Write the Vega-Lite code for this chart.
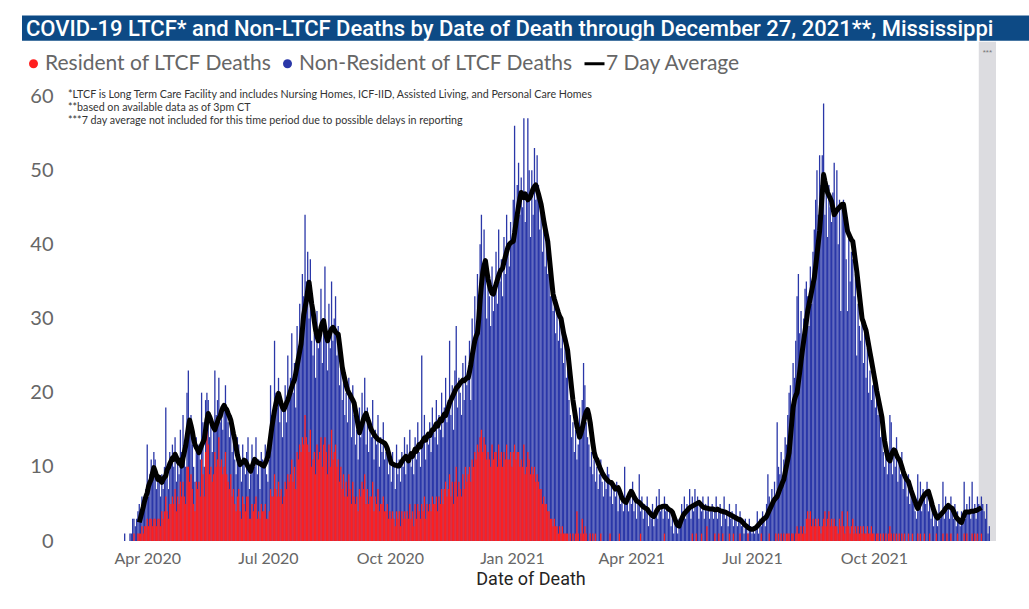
{
"$schema": "https://vega.github.io/schema/vega-lite/v6.json",
"width": 941, "height": 445,
"autosize": "none",
"padding": {"left": 60, "top": 96, "right": 28, "bottom": 68},
"background": "white",
"config": {"view": {"stroke": null}},
"data": {"values": [
{"d":"2020-03-15","t":1,"r":0},{"d":"2020-03-19","t":1,"r":0},{"d":"2020-03-20","t":1,"r":0},{"d":"2020-03-21","t":3,"r":0},{"d":"2020-03-22","t":3,"r":1},{"d":"2020-03-23","t":2,"r":0},{"d":"2020-03-24","t":3,"r":0},{"d":"2020-03-25","t":4,"r":1},{"d":"2020-03-26","t":5,"r":1,"a":2.5},{"d":"2020-03-27","t":3,"r":1,"a":3.2},{"d":"2020-03-28","t":6,"r":2,"a":3.9},
{"d":"2020-03-29","t":5,"r":1,"a":4.6},{"d":"2020-03-30","t":6,"r":2,"a":5.4},{"d":"2020-03-31","t":7,"r":2,"a":6.0},
{"d":"2020-04-01","t":13,"r":3,"a":6.5},{"d":"2020-04-02","t":6,"r":2,"a":7.4},{"d":"2020-04-03","t":9,"r":3,"a":7.9},{"d":"2020-04-04","t":11,"r":3,"a":8.3},{"d":"2020-04-05","t":8,"r":2,"a":9.2},{"d":"2020-04-06","t":12,"r":3,"a":9.9},{"d":"2020-04-07","t":11,"r":3,"a":9.4},{"d":"2020-04-08","t":7,"r":2,"a":8.8},{"d":"2020-04-09","t":9,"r":3,"a":8.3},{"d":"2020-04-10","t":8,"r":3,"a":8.6},{"d":"2020-04-11","t":6,"r":2,"a":8.1},{"d":"2020-04-12","t":9,"r":4,"a":7.9},{"d":"2020-04-13","t":7,"r":3,"a":8.3},{"d":"2020-04-14","t":10,"r":4,"a":8.6},{"d":"2020-04-15","t":18,"r":6,"a":8.8},{"d":"2020-04-16","t":9,"r":4,"a":9.6},{"d":"2020-04-17","t":7,"r":3,"a":9.9},{"d":"2020-04-18","t":12,"r":5,"a":10.4},{"d":"2020-04-19","t":11,"r":5,"a":10.8},{"d":"2020-04-20","t":13,"r":6,"a":11.2},{"d":"2020-04-21","t":10,"r":5,"a":11.0},{"d":"2020-04-22","t":14,"r":7,"a":11.7},{"d":"2020-04-23","t":8,"r":4,"a":11.3},{"d":"2020-04-24","t":11,"r":6,"a":10.8},{"d":"2020-04-25","t":9,"r":5,"a":10.5},{"d":"2020-04-26","t":15,"r":8,"a":10.9},{"d":"2020-04-27","t":12,"r":6,"a":10.1},
{"d":"2020-04-28","t":17,"r":8,"a":11.2},{"d":"2020-04-29","t":13,"r":6,"a":12.0},{"d":"2020-04-30","t":10,"r":5,"a":12.8},{"d":"2020-05-01","t":20,"r":10,"a":14.0},{"d":"2020-05-02","t":23,"r":10,"a":15.3},{"d":"2020-05-03","t":15,"r":8,"a":16.3},{"d":"2020-05-04","t":17,"r":9,"a":15.6},{"d":"2020-05-05","t":13,"r":7,"a":14.8},{"d":"2020-05-06","t":10,"r":5,"a":13.7},{"d":"2020-05-07","t":8,"r":4,"a":13.0},{"d":"2020-05-08","t":14,"r":8,"a":12.6},{"d":"2020-05-09","t":12,"r":7,"a":12.3},{"d":"2020-05-10","t":13,"r":8,"a":11.9},{"d":"2020-05-11","t":11,"r":6,"a":12.4},{"d":"2020-05-12","t":20,"r":11,"a":12.9},{"d":"2020-05-13","t":16,"r":9,"a":13.3},{"d":"2020-05-14","t":10,"r":6,"a":13.7},{"d":"2020-05-15","t":19,"r":12,"a":15.0},{"d":"2020-05-16","t":20,"r":15,"a":16.3},{"d":"2020-05-17","t":19,"r":13,"a":17.2},{"d":"2020-05-18","t":14,"r":9,"a":16.8},{"d":"2020-05-19","t":16,"r":10,"a":16.3},{"d":"2020-05-20","t":12,"r":8,"a":15.7},{"d":"2020-05-21","t":15,"r":9,"a":15.3},{"d":"2020-05-22","t":23,"r":12,"a":15.0},{"d":"2020-05-23","t":17,"r":10,"a":15.6},{"d":"2020-05-24","t":19,"r":11,"a":16.1},{"d":"2020-05-25","t":22,"r":14,"a":16.6},{"d":"2020-05-26","t":16,"r":10,"a":16.8},{"d":"2020-05-27","t":18,"r":11,"a":17.5},{"d":"2020-05-28","t":15,"r":9,"a":18.0},
{"d":"2020-05-29","t":18,"r":10,"a":18.3},{"d":"2020-05-30","t":21,"r":12,"a":17.9},{"d":"2020-05-31","t":18,"r":9,"a":17.7},{"d":"2020-06-01","t":16,"r":8,"a":17.2},{"d":"2020-06-02","t":14,"r":7,"a":16.8},{"d":"2020-06-03","t":17,"r":9,"a":16.3},{"d":"2020-06-04","t":12,"r":6,"a":15.4},{"d":"2020-06-05","t":14,"r":7,"a":14.5},{"d":"2020-06-06","t":11,"r":5,"a":13.7},{"d":"2020-06-07","t":9,"r":4,"a":12.6},{"d":"2020-06-08","t":14,"r":6,"a":11.6},{"d":"2020-06-09","t":13,"r":7,"a":10.9},{"d":"2020-06-10","t":10,"r":4,"a":10.3},{"d":"2020-06-11","t":8,"r":3,"a":10.5},{"d":"2020-06-12","t":13,"r":6,"a":10.6},{"d":"2020-06-13","t":11,"r":5,"a":10.9},{"d":"2020-06-14","t":9,"r":4,"a":10.8},{"d":"2020-06-15","t":12,"r":6,"a":10.4},{"d":"2020-06-16","t":14,"r":6,"a":10.0},{"d":"2020-06-17","t":7,"r":3,"a":9.7},{"d":"2020-06-18","t":9,"r":3,"a":9.4},{"d":"2020-06-19","t":13,"r":5,"a":10.0},{"d":"2020-06-20","t":11,"r":4,"a":10.5},{"d":"2020-06-21","t":10,"r":5,"a":11.0},{"d":"2020-06-22","t":14,"r":6,"a":10.8},{"d":"2020-06-23","t":9,"r":3,"a":10.6},{"d":"2020-06-24","t":11,"r":4,"a":10.5},{"d":"2020-06-25","t":7,"r":3,"a":10.5},{"d":"2020-06-26","t":12,"r":5,"a":10.3},{"d":"2020-06-27","t":11,"r":4,"a":10.2},
{"d":"2020-06-28","t":10,"r":4,"a":10.1},{"d":"2020-06-29","t":13,"r":5,"a":10.5},{"d":"2020-06-30","t":9,"r":3,"a":10.9},{"d":"2020-07-01","t":8,"r":3,"a":11.4},{"d":"2020-07-02","t":11,"r":4,"a":12.6},{"d":"2020-07-03","t":21,"r":7,"a":14.0},{"d":"2020-07-04","t":17,"r":6,"a":15.4},{"d":"2020-07-05","t":15,"r":6,"a":16.5},{"d":"2020-07-06","t":27,"r":9,"a":17.6},{"d":"2020-07-07","t":20,"r":7,"a":18.5},{"d":"2020-07-08","t":18,"r":6,"a":19.3},{"d":"2020-07-09","t":22,"r":8,"a":19.9},{"d":"2020-07-10","t":16,"r":6,"a":19.2},{"d":"2020-07-11","t":19,"r":7,"a":18.5},{"d":"2020-07-12","t":14,"r":5,"a":18.0},{"d":"2020-07-13","t":18,"r":6,"a":17.7},{"d":"2020-07-14","t":21,"r":8,"a":18.1},{"d":"2020-07-15","t":16,"r":7,"a":18.6},{"d":"2020-07-16","t":25,"r":9,"a":19.0},{"d":"2020-07-17","t":19,"r":8,"a":19.6},{"d":"2020-07-18","t":22,"r":9,"a":20.2},{"d":"2020-07-19","t":28,"r":11,"a":20.8},{"d":"2020-07-20","t":20,"r":8,"a":21.3},{"d":"2020-07-21","t":24,"r":10,"a":21.7},{"d":"2020-07-22","t":18,"r":7,"a":22.6},{"d":"2020-07-23","t":29,"r":12,"a":23.6},{"d":"2020-07-24","t":26,"r":11,"a":24.6},{"d":"2020-07-25","t":32,"r":13,"a":25.6},{"d":"2020-07-26","t":28,"r":12,"a":26.6},{"d":"2020-07-27","t":36,"r":14,"a":28.5},{"d":"2020-07-28","t":33,"r":13,"a":30.5},
{"d":"2020-07-29","t":44,"r":17,"a":31.5},{"d":"2020-07-30","t":35,"r":14,"a":32.4},{"d":"2020-07-31","t":39,"r":13,"a":33.8},{"d":"2020-08-01","t":30,"r":12,"a":34.9},{"d":"2020-08-02","t":38,"r":15,"a":33.5},{"d":"2020-08-03","t":27,"r":10,"a":32.0},{"d":"2020-08-04","t":25,"r":11,"a":31.0},{"d":"2020-08-05","t":28,"r":12,"a":29.6},{"d":"2020-08-06","t":22,"r":9,"a":28.4},{"d":"2020-08-07","t":31,"r":13,"a":27.6},{"d":"2020-08-08","t":26,"r":11,"a":27.0},{"d":"2020-08-09","t":29,"r":12,"a":27.8},{"d":"2020-08-10","t":34,"r":14,"a":28.8},{"d":"2020-08-11","t":24,"r":10,"a":29.4},{"d":"2020-08-12","t":30,"r":13,"a":29.7},{"d":"2020-08-13","t":37,"r":14,"a":28.6},{"d":"2020-08-14","t":28,"r":12,"a":27.6},{"d":"2020-08-15","t":23,"r":9,"a":27.0},{"d":"2020-08-16","t":32,"r":13,"a":27.6},{"d":"2020-08-17","t":26,"r":10,"a":28.2},{"d":"2020-08-18","t":35,"r":15,"a":28.6},{"d":"2020-08-19","t":27,"r":11,"a":28.8},{"d":"2020-08-20","t":30,"r":12,"a":28.5},{"d":"2020-08-21","t":33,"r":13,"a":28.2},{"d":"2020-08-22","t":25,"r":10,"a":28.0},{"d":"2020-08-23","t":29,"r":11,"a":27.9},{"d":"2020-08-24","t":21,"r":8,"a":26.5},{"d":"2020-08-25","t":26,"r":10,"a":25.0},{"d":"2020-08-26","t":19,"r":7,"a":23.5},{"d":"2020-08-27","t":23,"r":9,"a":22.6},{"d":"2020-08-28","t":17,"r":6,"a":21.8},
{"d":"2020-08-29","t":20,"r":8,"a":21.0},{"d":"2020-08-30","t":16,"r":6,"a":20.4},{"d":"2020-08-31","t":22,"r":9,"a":20.0},{"d":"2020-09-01","t":19,"r":7,"a":19.7},{"d":"2020-09-02","t":14,"r":5,"a":19.3},{"d":"2020-09-03","t":21,"r":8,"a":19.0},{"d":"2020-09-04","t":17,"r":6,"a":18.6},{"d":"2020-09-05","t":13,"r":5,"a":17.6},{"d":"2020-09-06","t":15,"r":6,"a":16.6},{"d":"2020-09-07","t":11,"r":4,"a":15.6},{"d":"2020-09-08","t":18,"r":7,"a":14.6},{"d":"2020-09-09","t":14,"r":6,"a":15.2},{"d":"2020-09-10","t":20,"r":8,"a":15.8},{"d":"2020-09-11","t":16,"r":7,"a":16.4},{"d":"2020-09-12","t":22,"r":9,"a":16.9},{"d":"2020-09-13","t":13,"r":5,"a":17.2},{"d":"2020-09-14","t":18,"r":7,"a":16.6},{"d":"2020-09-15","t":12,"r":5,"a":16.1},{"d":"2020-09-16","t":16,"r":6,"a":15.5},{"d":"2020-09-17","t":14,"r":6,"a":15.0},{"d":"2020-09-18","t":19,"r":8,"a":14.7},{"d":"2020-09-19","t":11,"r":4,"a":14.4},{"d":"2020-09-20","t":15,"r":6,"a":14.1},{"d":"2020-09-21","t":13,"r":5,"a":13.9},{"d":"2020-09-22","t":17,"r":7,"a":13.7},{"d":"2020-09-23","t":10,"r":4,"a":13.6},{"d":"2020-09-24","t":14,"r":5,"a":13.5},{"d":"2020-09-25","t":12,"r":5,"a":13.4},{"d":"2020-09-26","t":16,"r":6,"a":13.3},{"d":"2020-09-27","t":11,"r":4,"a":13.2},{"d":"2020-09-28","t":12,"r":4,"a":12.9},
{"d":"2020-09-29","t":13,"r":5,"a":12.5},{"d":"2020-09-30","t":9,"r":3,"a":11.8},{"d":"2020-10-01","t":11,"r":4,"a":11.1},{"d":"2020-10-02","t":8,"r":3,"a":10.5},{"d":"2020-10-03","t":12,"r":4,"a":10.4},{"d":"2020-10-04","t":10,"r":3,"a":10.3},{"d":"2020-10-05","t":7,"r":2,"a":10.2},{"d":"2020-10-06","t":13,"r":4,"a":10.2},{"d":"2020-10-07","t":9,"r":3,"a":10.1},{"d":"2020-10-08","t":11,"r":4,"a":10.1},{"d":"2020-10-09","t":8,"r":2,"a":10.4},{"d":"2020-10-10","t":12,"r":4,"a":10.7},{"d":"2020-10-11","t":10,"r":3,"a":11.0},{"d":"2020-10-12","t":14,"r":4,"a":11.2},{"d":"2020-10-13","t":9,"r":3,"a":11.4},{"d":"2020-10-14","t":13,"r":4,"a":11.1},{"d":"2020-10-15","t":11,"r":3,"a":10.8},{"d":"2020-10-16","t":15,"r":5,"a":11.3},{"d":"2020-10-17","t":10,"r":3,"a":11.8},{"d":"2020-10-18","t":12,"r":4,"a":11.4},{"d":"2020-10-19","t":9,"r":2,"a":11.9},{"d":"2020-10-20","t":14,"r":5,"a":12.4},{"d":"2020-10-21","t":11,"r":3,"a":12.1},{"d":"2020-10-22","t":16,"r":5,"a":12.6},{"d":"2020-10-23","t":12,"r":4,"a":13.0},{"d":"2020-10-24","t":10,"r":3,"a":12.7},{"d":"2020-10-25","t":25,"r":5,"a":13.3},{"d":"2020-10-26","t":13,"r":4,"a":13.5},{"d":"2020-10-27","t":17,"r":6,"a":13.9},{"d":"2020-10-28","t":11,"r":3,"a":13.6},{"d":"2020-10-29","t":14,"r":5,"a":14.1},
{"d":"2020-10-30","t":13,"r":4,"a":14.4},{"d":"2020-10-31","t":16,"r":5,"a":14.2},{"d":"2020-11-01","t":12,"r":4,"a":14.6},{"d":"2020-11-02","t":18,"r":6,"a":15.0},{"d":"2020-11-03","t":15,"r":5,"a":15.0},{"d":"2020-11-04","t":14,"r":5,"a":15.4},{"d":"2020-11-05","t":19,"r":6,"a":15.8},{"d":"2020-11-06","t":13,"r":4,"a":15.5},{"d":"2020-11-07","t":17,"r":6,"a":16.0},{"d":"2020-11-08","t":15,"r":5,"a":16.4},{"d":"2020-11-09","t":20,"r":7,"a":16.2},{"d":"2020-11-10","t":14,"r":5,"a":16.7},{"d":"2020-11-11","t":18,"r":7,"a":17.1},{"d":"2020-11-12","t":22,"r":8,"a":16.9},{"d":"2020-11-13","t":16,"r":6,"a":17.5},{"d":"2020-11-14","t":19,"r":7,"a":18.0},{"d":"2020-11-15","t":27,"r":9,"a":18.6},{"d":"2020-11-16","t":17,"r":6,"a":19.0},{"d":"2020-11-17","t":21,"r":8,"a":19.4},{"d":"2020-11-18","t":15,"r":5,"a":19.8},{"d":"2020-11-19","t":23,"r":8,"a":20.2},{"d":"2020-11-20","t":29,"r":10,"a":20.6},{"d":"2020-11-21","t":18,"r":6,"a":20.8},{"d":"2020-11-22","t":22,"r":8,"a":21.0},{"d":"2020-11-23","t":20,"r":7,"a":21.3},{"d":"2020-11-24","t":17,"r":6,"a":21.5},{"d":"2020-11-25","t":24,"r":9,"a":21.7},{"d":"2020-11-26","t":19,"r":7,"a":21.6},{"d":"2020-11-27","t":25,"r":10,"a":21.8},{"d":"2020-11-28","t":21,"r":8,"a":22.0},
{"d":"2020-11-29","t":23,"r":9,"a":22.0},{"d":"2020-11-30","t":27,"r":10,"a":22.8},{"d":"2020-12-01","t":19,"r":8,"a":23.8},{"d":"2020-12-02","t":30,"r":11,"a":25.0},{"d":"2020-12-03","t":25,"r":10,"a":26.0},{"d":"2020-12-04","t":33,"r":12,"a":27.0},{"d":"2020-12-05","t":28,"r":11,"a":27.6},{"d":"2020-12-06","t":36,"r":13,"a":28.0},{"d":"2020-12-07","t":31,"r":12,"a":30.0},{"d":"2020-12-08","t":40,"r":14,"a":32.5},{"d":"2020-12-09","t":44,"r":15,"a":34.5},{"d":"2020-12-10","t":35,"r":12,"a":36.2},{"d":"2020-12-11","t":42,"r":14,"a":37.2},{"d":"2020-12-12","t":38,"r":13,"a":37.8},{"d":"2020-12-13","t":30,"r":11,"a":36.5},{"d":"2020-12-14","t":36,"r":12,"a":35.3},{"d":"2020-12-15","t":33,"r":11,"a":34.5},{"d":"2020-12-16","t":29,"r":10,"a":33.8},{"d":"2020-12-17","t":37,"r":13,"a":33.4},{"d":"2020-12-18","t":31,"r":11,"a":33.3},{"d":"2020-12-19","t":34,"r":12,"a":34.0},{"d":"2020-12-20","t":39,"r":12,"a":34.6},{"d":"2020-12-21","t":32,"r":10,"a":35.2},{"d":"2020-12-22","t":42,"r":13,"a":35.8},{"d":"2020-12-23","t":35,"r":11,"a":36.3},{"d":"2020-12-24","t":38,"r":12,"a":36.6},{"d":"2020-12-25","t":33,"r":10,"a":36.8},{"d":"2020-12-26","t":41,"r":12,"a":37.6},{"d":"2020-12-27","t":36,"r":11,"a":38.3},{"d":"2020-12-28","t":44,"r":13,"a":39.0},{"d":"2020-12-29","t":39,"r":11,"a":39.6},
{"d":"2020-12-30","t":37,"r":11,"a":40.0},{"d":"2020-12-31","t":43,"r":12,"a":40.2},{"d":"2021-01-01","t":40,"r":10,"a":40.3},{"d":"2021-01-02","t":46,"r":12,"a":40.4},{"d":"2021-01-03","t":56,"r":13,"a":41.5},{"d":"2021-01-04","t":42,"r":11,"a":42.8},{"d":"2021-01-05","t":48,"r":12,"a":44.0},{"d":"2021-01-06","t":51,"r":12,"a":45.2},{"d":"2021-01-07","t":44,"r":10,"a":46.2},{"d":"2021-01-08","t":49,"r":11,"a":47.0},{"d":"2021-01-09","t":45,"r":10,"a":46.6},{"d":"2021-01-10","t":57,"r":13,"a":46.3},{"d":"2021-01-11","t":43,"r":9,"a":46.8},{"d":"2021-01-12","t":47,"r":10,"a":46.4},{"d":"2021-01-13","t":57,"r":12,"a":46.0},{"d":"2021-01-14","t":50,"r":11,"a":46.2},
{"d":"2021-01-15","t":41,"r":9,"a":46.5},{"d":"2021-01-16","t":50,"r":10,"a":47.0},{"d":"2021-01-17","t":44,"r":9,"a":47.5},{"d":"2021-01-18","t":53,"r":10,"a":47.8},{"d":"2021-01-19","t":46,"r":8,"a":48.0},{"d":"2021-01-20","t":52,"r":9,"a":47.4},{"d":"2021-01-21","t":48,"r":8,"a":46.8},{"d":"2021-01-22","t":42,"r":7,"a":46.1},{"d":"2021-01-23","t":45,"r":7,"a":45.4},{"d":"2021-01-24","t":39,"r":5,"a":44.3},{"d":"2021-01-25","t":43,"r":6,"a":43.2},{"d":"2021-01-26","t":37,"r":5,"a":42.2},{"d":"2021-01-27","t":41,"r":5,"a":41.3},{"d":"2021-01-28","t":36,"r":4,"a":40.4},{"d":"2021-01-29","t":39,"r":4,"a":38.6},{"d":"2021-01-30","t":33,"r":3,"a":36.8},
{"d":"2021-01-31","t":35,"r":3,"a":35.0},{"d":"2021-02-01","t":31,"r":2,"a":33.3},{"d":"2021-02-02","t":34,"r":3,"a":32.6},{"d":"2021-02-03","t":28,"r":2,"a":32.0},{"d":"2021-02-04","t":32,"r":2,"a":31.4},{"d":"2021-02-05","t":27,"r":1,"a":30.8},{"d":"2021-02-06","t":30,"r":2,"a":30.3},{"d":"2021-02-07","t":26,"r":1,"a":30.0},{"d":"2021-02-08","t":29,"r":2,"a":29.0},{"d":"2021-02-09","t":24,"r":1,"a":28.0},{"d":"2021-02-10","t":27,"r":1,"a":27.3},{"d":"2021-02-11","t":22,"r":1,"a":26.5},{"d":"2021-02-12","t":25,"r":1,"a":25.7},{"d":"2021-02-13","t":19,"r":0,"a":24.0},{"d":"2021-02-14","t":17,"r":1,"a":22.3},{"d":"2021-02-15","t":14,"r":0,"a":20.6},{"d":"2021-02-16","t":16,"r":1,"a":19.0},{"d":"2021-02-17","t":12,"r":0,"a":17.8},{"d":"2021-02-18","t":15,"r":1,"a":16.6},{"d":"2021-02-19","t":11,"r":4,"a":15.5},{"d":"2021-02-20","t":13,"r":1,"a":14.8},{"d":"2021-02-21","t":18,"r":0,"a":14.0},{"d":"2021-02-22","t":15,"r":1,"a":14.5},{"d":"2021-02-23","t":19,"r":3,"a":15.2},{"d":"2021-02-24","t":24,"r":1,"a":16.0},{"d":"2021-02-25","t":21,"r":2,"a":16.8},{"d":"2021-02-26","t":16,"r":1,"a":17.4},{"d":"2021-02-27","t":14,"r":0,"a":17.7},
{"d":"2021-02-28","t":13,"r":0,"a":17.0},{"d":"2021-03-01","t":10,"r":1,"a":16.0},{"d":"2021-03-02","t":12,"r":0,"a":14.6},{"d":"2021-03-03","t":9,"r":1,"a":13.2},{"d":"2021-03-04","t":11,"r":0,"a":12.0},{"d":"2021-03-05","t":8,"r":1,"a":11.3},{"d":"2021-03-06","t":10,"r":0,"a":11.0},{"d":"2021-03-07","t":7,"r":0,"a":10.5},{"d":"2021-03-08","t":9,"r":0,"a":10.0},{"d":"2021-03-09","t":11,"r":1,"a":9.6},{"d":"2021-03-10","t":8,"r":0,"a":9.2},{"d":"2021-03-11","t":6,"r":0,"a":8.9},{"d":"2021-03-12","t":9,"r":0,"a":8.6},{"d":"2021-03-13","t":7,"r":0,"a":8.4},{"d":"2021-03-14","t":10,"r":0,"a":8.2},{"d":"2021-03-15","t":9,"r":0,"a":8.0},{"d":"2021-03-16","t":6,"r":1,"a":7.9},{"d":"2021-03-17","t":8,"r":0,"a":7.9},{"d":"2021-03-18","t":5,"r":0,"a":7.6},{"d":"2021-03-19","t":7,"r":0,"a":7.3},{"d":"2021-03-20","t":6,"r":0,"a":7.0},{"d":"2021-03-21","t":8,"r":0,"a":7.1},{"d":"2021-03-22","t":4,"r":0,"a":7.2},{"d":"2021-03-23","t":7,"r":1,"a":6.8},{"d":"2021-03-24","t":5,"r":0,"a":6.3},{"d":"2021-03-25","t":6,"r":0,"a":5.8},{"d":"2021-03-26","t":4,"r":0,"a":5.5},{"d":"2021-03-27","t":10,"r":0,"a":5.3},{"d":"2021-03-28","t":5,"r":0,"a":5.2},{"d":"2021-03-29","t":6,"r":0,"a":5.6},{"d":"2021-03-30","t":4,"r":0,"a":6.0},
{"d":"2021-03-31","t":7,"r":0,"a":6.4},{"d":"2021-04-01","t":5,"r":0,"a":6.7},{"d":"2021-04-02","t":8,"r":0,"a":6.4},{"d":"2021-04-03","t":4,"r":0,"a":6.0},{"d":"2021-04-04","t":6,"r":0,"a":5.7},{"d":"2021-04-05","t":3,"r":0,"a":5.4},{"d":"2021-04-06","t":5,"r":0,"a":5.3},{"d":"2021-04-07","t":9,"r":0,"a":5.2},{"d":"2021-04-08","t":4,"r":1,"a":5.0},{"d":"2021-04-09","t":6,"r":0,"a":4.8},{"d":"2021-04-10","t":3,"r":0,"a":4.6},{"d":"2021-04-11","t":5,"r":0,"a":4.5},{"d":"2021-04-12","t":4,"r":0,"a":4.4},{"d":"2021-04-13","t":6,"r":0,"a":4.3},{"d":"2021-04-14","t":2,"r":0,"a":4.0},{"d":"2021-04-15","t":4,"r":0,"a":3.8},{"d":"2021-04-16","t":3,"r":0,"a":3.6},{"d":"2021-04-17","t":5,"r":0,"a":3.4},{"d":"2021-04-18","t":2,"r":0,"a":3.3},{"d":"2021-04-19","t":4,"r":0,"a":3.6},{"d":"2021-04-20","t":6,"r":0,"a":4.0},{"d":"2021-04-21","t":3,"r":0,"a":4.3},{"d":"2021-04-22","t":7,"r":0,"a":4.5},{"d":"2021-04-23","t":4,"r":0,"a":4.6},{"d":"2021-04-24","t":5,"r":0,"a":4.6},{"d":"2021-04-25","t":3,"r":0,"a":4.7},{"d":"2021-04-26","t":6,"r":1,"a":4.7},{"d":"2021-04-27","t":4,"r":0,"a":4.7},{"d":"2021-04-28","t":5,"r":0,"a":4.5},{"d":"2021-04-29","t":3,"r":0,"a":4.3},{"d":"2021-04-30","t":4,"r":0,"a":4.2},
{"d":"2021-05-01","t":2,"r":0,"a":4.1},{"d":"2021-05-02","t":4,"r":0,"a":3.9},{"d":"2021-05-03","t":1,"r":0,"a":3.4},{"d":"2021-05-04","t":3,"r":0,"a":2.9},{"d":"2021-05-05","t":2,"r":0,"a":2.4},{"d":"2021-05-06","t":1,"r":0,"a":2.1},{"d":"2021-05-07","t":3,"r":0,"a":2.0},{"d":"2021-05-08","t":2,"r":0,"a":2.5},{"d":"2021-05-09","t":5,"r":0,"a":3.0},{"d":"2021-05-10","t":4,"r":0,"a":3.4},{"d":"2021-05-11","t":6,"r":0,"a":3.7},{"d":"2021-05-12","t":3,"r":0,"a":3.9},{"d":"2021-05-13","t":5,"r":0,"a":4.1},{"d":"2021-05-14","t":4,"r":0,"a":4.3},{"d":"2021-05-15","t":7,"r":0,"a":4.5},{"d":"2021-05-16","t":3,"r":0,"a":4.6},{"d":"2021-05-17","t":6,"r":1,"a":4.7},{"d":"2021-05-18","t":4,"r":0,"a":4.8},{"d":"2021-05-19","t":7,"r":0,"a":4.9},{"d":"2021-05-20","t":5,"r":1,"a":5.0},{"d":"2021-05-21","t":6,"r":0,"a":5.1},{"d":"2021-05-22","t":3,"r":0,"a":5.2},{"d":"2021-05-23","t":5,"r":0,"a":5.0},{"d":"2021-05-24","t":4,"r":1,"a":4.8},{"d":"2021-05-25","t":6,"r":0,"a":4.6},{"d":"2021-05-26","t":3,"r":0,"a":4.5},{"d":"2021-05-27","t":5,"r":0,"a":4.5},{"d":"2021-05-28","t":4,"r":2,"a":4.4},{"d":"2021-05-29","t":6,"r":0,"a":4.4},{"d":"2021-05-30","t":3,"r":0,"a":4.3},{"d":"2021-05-31","t":4,"r":0,"a":4.3},
{"d":"2021-06-01","t":5,"r":0,"a":4.3},{"d":"2021-06-02","t":3,"r":0,"a":4.3},{"d":"2021-06-03","t":4,"r":1,"a":4.2},{"d":"2021-06-04","t":6,"r":0,"a":4.2},{"d":"2021-06-05","t":3,"r":0,"a":4.3},{"d":"2021-06-06","t":4,"r":1,"a":4.2},{"d":"2021-06-07","t":5,"r":0,"a":4.1},{"d":"2021-06-08","t":2,"r":0,"a":4.0},{"d":"2021-06-09","t":4,"r":1,"a":4.0},{"d":"2021-06-10","t":6,"r":0,"a":3.9},{"d":"2021-06-11","t":3,"r":0,"a":3.9},{"d":"2021-06-12","t":4,"r":0,"a":3.8},{"d":"2021-06-13","t":2,"r":0,"a":3.7},{"d":"2021-06-14","t":5,"r":1,"a":3.6},{"d":"2021-06-15","t":3,"r":0,"a":3.5},{"d":"2021-06-16","t":4,"r":0,"a":3.4},{"d":"2021-06-17","t":2,"r":1,"a":3.3},{"d":"2021-06-18","t":3,"r":0,"a":3.2},{"d":"2021-06-19","t":5,"r":0,"a":3.1},{"d":"2021-06-20","t":2,"r":0,"a":3.0},{"d":"2021-06-21","t":3,"r":0,"a":2.9},{"d":"2021-06-22","t":4,"r":1,"a":2.9},{"d":"2021-06-23","t":2,"r":0,"a":2.7},{"d":"2021-06-24","t":3,"r":0,"a":2.5},{"d":"2021-06-25","t":1,"r":0,"a":2.3},{"d":"2021-06-26","t":3,"r":0,"a":2.1},{"d":"2021-06-27","t":2,"r":0,"a":2.0},{"d":"2021-06-28","t":1,"r":1,"a":1.8},{"d":"2021-06-29","t":3,"r":0,"a":1.7},{"d":"2021-06-30","t":2,"r":0,"a":1.6},
{"d":"2021-07-01","t":1,"r":0,"a":1.6},{"d":"2021-07-02","t":2,"r":0,"a":1.6},{"d":"2021-07-03","t":1,"r":0,"a":1.7},{"d":"2021-07-04","t":2,"r":0,"a":1.8},{"d":"2021-07-05","t":4,"r":0,"a":2.0},{"d":"2021-07-06","t":1,"r":0,"a":2.2},{"d":"2021-07-07","t":3,"r":0,"a":2.4},{"d":"2021-07-08","t":2,"r":1,"a":2.6},{"d":"2021-07-09","t":4,"r":0,"a":2.8},{"d":"2021-07-10","t":3,"r":0,"a":3.0},{"d":"2021-07-11","t":2,"r":0,"a":3.1},{"d":"2021-07-12","t":5,"r":0,"a":3.3},{"d":"2021-07-13","t":9,"r":0,"a":3.7},{"d":"2021-07-14","t":6,"r":1,"a":4.1},{"d":"2021-07-15","t":4,"r":0,"a":4.5},{"d":"2021-07-16","t":7,"r":0,"a":4.9},{"d":"2021-07-17","t":5,"r":0,"a":5.3},{"d":"2021-07-18","t":8,"r":0,"a":5.6},{"d":"2021-07-19","t":6,"r":1,"a":5.8},{"d":"2021-07-20","t":16,"r":0,"a":6.0},{"d":"2021-07-21","t":10,"r":1,"a":6.5},{"d":"2021-07-22","t":9,"r":0,"a":7.0},{"d":"2021-07-23","t":12,"r":1,"a":7.4},{"d":"2021-07-24","t":8,"r":0,"a":7.9},{"d":"2021-07-25","t":11,"r":1,"a":8.3},{"d":"2021-07-26","t":14,"r":0,"a":9.2},{"d":"2021-07-27","t":13,"r":1,"a":10.1},{"d":"2021-07-28","t":17,"r":1,"a":11.0},{"d":"2021-07-29","t":20,"r":1,"a":11.9},{"d":"2021-07-30","t":21,"r":0,"a":14.0},{"d":"2021-07-31","t":18,"r":1,"a":16.0},
{"d":"2021-08-01","t":24,"r":1,"a":18.0},{"d":"2021-08-02","t":22,"r":0,"a":19.0},{"d":"2021-08-03","t":27,"r":1,"a":19.6},{"d":"2021-08-04","t":33,"r":2,"a":20.0},{"d":"2021-08-05","t":36,"r":1,"a":21.4},{"d":"2021-08-06","t":28,"r":1,"a":22.8},{"d":"2021-08-07","t":31,"r":2,"a":24.3},{"d":"2021-08-08","t":26,"r":1,"a":25.7},{"d":"2021-08-09","t":30,"r":2,"a":27.0},{"d":"2021-08-10","t":34,"r":1,"a":28.3},{"d":"2021-08-11","t":35,"r":3,"a":29.6},{"d":"2021-08-12","t":33,"r":4,"a":31.0},{"d":"2021-08-13","t":29,"r":3,"a":31.9},{"d":"2021-08-14","t":37,"r":4,"a":32.8},{"d":"2021-08-15","t":32,"r":2,"a":33.7},{"d":"2021-08-16","t":39,"r":3,"a":34.6},{"d":"2021-08-17","t":42,"r":2,"a":35.5},{"d":"2021-08-18","t":46,"r":3,"a":37.0},{"d":"2021-08-19","t":50,"r":2,"a":38.6},{"d":"2021-08-20","t":44,"r":3,"a":40.2},{"d":"2021-08-21","t":52,"r":2,"a":41.8},{"d":"2021-08-22","t":48,"r":1,"a":44.3},{"d":"2021-08-23","t":52,"r":2,"a":46.9},{"d":"2021-08-24","t":59,"r":3,"a":49.4},{"d":"2021-08-25","t":44,"r":4,"a":48.5},{"d":"2021-08-26","t":47,"r":2,"a":47.7},{"d":"2021-08-27","t":41,"r":3,"a":47.0},{"d":"2021-08-28","t":48,"r":4,"a":46.6},{"d":"2021-08-29","t":45,"r":2,"a":46.2},{"d":"2021-08-30","t":43,"r":3,"a":45.8},{"d":"2021-08-31","t":47,"r":2,"a":44.9},
{"d":"2021-09-01","t":51,"r":3,"a":44.0},{"d":"2021-09-02","t":44,"r":2,"a":44.3},{"d":"2021-09-03","t":50,"r":2,"a":44.6},{"d":"2021-09-04","t":40,"r":1,"a":44.8},{"d":"2021-09-05","t":46,"r":3,"a":45.0},{"d":"2021-09-06","t":31,"r":2,"a":45.2},{"d":"2021-09-07","t":45,"r":4,"a":45.4},{"d":"2021-09-08","t":46,"r":2,"a":45.4},{"d":"2021-09-09","t":43,"r":1,"a":44.2},{"d":"2021-09-10","t":38,"r":2,"a":43.0},{"d":"2021-09-11","t":31,"r":4,"a":41.8},{"d":"2021-09-12","t":42,"r":2,"a":41.4},{"d":"2021-09-13","t":35,"r":1,"a":41.0},{"d":"2021-09-14","t":39,"r":2,"a":40.6},{"d":"2021-09-15","t":38,"r":3,"a":40.4},{"d":"2021-09-16","t":33,"r":1,"a":39.1},{"d":"2021-09-17","t":36,"r":2,"a":37.7},{"d":"2021-09-18","t":25,"r":1,"a":36.4},{"d":"2021-09-19","t":32,"r":2,"a":34.8},{"d":"2021-09-20","t":29,"r":1,"a":33.2},{"d":"2021-09-21","t":27,"r":2,"a":31.6},{"d":"2021-09-22","t":30,"r":1,"a":30.0},{"d":"2021-09-23","t":24,"r":2,"a":29.5},{"d":"2021-09-24","t":28,"r":1,"a":28.9},{"d":"2021-09-25","t":22,"r":1,"a":28.4},{"d":"2021-09-26","t":26,"r":2,"a":27.4},{"d":"2021-09-27","t":20,"r":1,"a":26.4},{"d":"2021-09-28","t":23,"r":1,"a":25.4},{"d":"2021-09-29","t":19,"r":2,"a":24.4},{"d":"2021-09-30","t":21,"r":1,"a":23.4},
{"d":"2021-10-01","t":22,"r":1,"a":22.4},{"d":"2021-10-02","t":18,"r":0,"a":21.4},{"d":"2021-10-03","t":20,"r":1,"a":20.3},{"d":"2021-10-04","t":17,"r":1,"a":19.4},{"d":"2021-10-05","t":19,"r":0,"a":18.5},{"d":"2021-10-06","t":14,"r":1,"a":17.6},{"d":"2021-10-07","t":16,"r":0,"a":16.7},{"d":"2021-10-08","t":12,"r":1,"a":15.0},{"d":"2021-10-09","t":10,"r":0,"a":13.5},{"d":"2021-10-10","t":13,"r":1,"a":12.5},{"d":"2021-10-11","t":9,"r":0,"a":11.6},{"d":"2021-10-12","t":11,"r":1,"a":11.0},{"d":"2021-10-13","t":17,"r":2,"a":10.8},{"d":"2021-10-14","t":16,"r":1,"a":11.5},{"d":"2021-10-15","t":9,"r":0,"a":12.0},{"d":"2021-10-16","t":12,"r":1,"a":12.3},{"d":"2021-10-17","t":10,"r":0,"a":12.1},{"d":"2021-10-18","t":14,"r":1,"a":11.6},{"d":"2021-10-19","t":8,"r":0,"a":11.2},{"d":"2021-10-20","t":11,"r":1,"a":11.0},{"d":"2021-10-21","t":9,"r":0,"a":10.6},{"d":"2021-10-22","t":12,"r":1,"a":10.0},{"d":"2021-10-23","t":7,"r":0,"a":9.4},{"d":"2021-10-24","t":9,"r":1,"a":8.9},{"d":"2021-10-25","t":8,"r":0,"a":8.5},{"d":"2021-10-26","t":6,"r":0,"a":8.2},{"d":"2021-10-27","t":9,"r":1,"a":8.0},{"d":"2021-10-28","t":5,"r":0,"a":7.4},{"d":"2021-10-29","t":7,"r":0,"a":6.8},{"d":"2021-10-30","t":6,"r":1,"a":6.3},{"d":"2021-10-31","t":5,"r":0,"a":5.8},
{"d":"2021-11-01","t":4,"r":0,"a":5.3},{"d":"2021-11-02","t":3,"r":0,"a":4.8},{"d":"2021-11-03","t":9,"r":1,"a":4.4},{"d":"2021-11-04","t":5,"r":0,"a":4.8},{"d":"2021-11-05","t":8,"r":1,"a":5.2},{"d":"2021-11-06","t":4,"r":0,"a":5.6},{"d":"2021-11-07","t":7,"r":0,"a":5.9},{"d":"2021-11-08","t":6,"r":1,"a":6.2},{"d":"2021-11-09","t":5,"r":0,"a":6.4},{"d":"2021-11-10","t":8,"r":0,"a":6.6},{"d":"2021-11-11","t":4,"r":0,"a":6.7},{"d":"2021-11-12","t":6,"r":1,"a":6.1},{"d":"2021-11-13","t":3,"r":0,"a":5.5},{"d":"2021-11-14","t":5,"r":0,"a":4.8},{"d":"2021-11-15","t":2,"r":0,"a":4.2},{"d":"2021-11-16","t":4,"r":0,"a":3.7},{"d":"2021-11-17","t":3,"r":1,"a":3.3},{"d":"2021-11-18","t":2,"r":0,"a":3.1},{"d":"2021-11-19","t":5,"r":0,"a":3.3},{"d":"2021-11-20","t":3,"r":0,"a":3.5},{"d":"2021-11-21","t":4,"r":0,"a":3.7},{"d":"2021-11-22","t":8,"r":1,"a":3.9},{"d":"2021-11-23","t":3,"r":0,"a":4.1},{"d":"2021-11-24","t":6,"r":0,"a":4.4},{"d":"2021-11-25","t":4,"r":1,"a":4.6},{"d":"2021-11-26","t":5,"r":0,"a":4.8},{"d":"2021-11-27","t":3,"r":0,"a":4.6},{"d":"2021-11-28","t":6,"r":1,"a":4.5},{"d":"2021-11-29","t":4,"r":0,"a":4.4},{"d":"2021-11-30","t":3,"r":0,"a":4.0},
{"d":"2021-12-01","t":5,"r":0,"a":3.6},{"d":"2021-12-02","t":2,"r":0,"a":3.2},{"d":"2021-12-03","t":4,"r":1,"a":3.0},{"d":"2021-12-04","t":3,"r":0,"a":2.8},{"d":"2021-12-05","t":2,"r":0,"a":2.6},{"d":"2021-12-06","t":4,"r":0,"a":2.5},{"d":"2021-12-07","t":3,"r":0,"a":3.0},{"d":"2021-12-08","t":8,"r":1,"a":3.5},{"d":"2021-12-09","t":3,"r":0,"a":3.9},{"d":"2021-12-10","t":5,"r":1,"a":3.9},{"d":"2021-12-11","t":4,"r":0,"a":3.9},{"d":"2021-12-12","t":6,"r":0,"a":3.9},{"d":"2021-12-13","t":3,"r":0,"a":4.0},{"d":"2021-12-14","t":8,"r":1,"a":4.0},{"d":"2021-12-15","t":4,"r":0,"a":4.0},{"d":"2021-12-16","t":5,"r":1,"a":4.1},{"d":"2021-12-17","t":3,"r":0,"a":4.1},{"d":"2021-12-18","t":6,"r":1,"a":4.2},{"d":"2021-12-19","t":5,"r":0,"a":4.3},{"d":"2021-12-20","t":4,"r":0,"a":4.4},{"d":"2021-12-21","t":6,"r":1,"a":4.5},{"d":"2021-12-22","t":5,"r":0},{"d":"2021-12-23","t":4,"r":0},{"d":"2021-12-24","t":3,"r":0},{"d":"2021-12-25","t":5,"r":0},{"d":"2021-12-26","t":1,"r":0},{"d":"2021-12-27","t":2,"r":0}
]},
"encoding": {
  "x": {"field": "d", "type": "temporal",
        "scale": {"type": "utc", "domain": [{"year": 2020, "month": 1, "date": 30, "utc": true}, {"year": 2022, "month": 1, "date": 1, "utc": true}]},
        "axis": {"values": [{"year":2020,"month":4,"date":1,"utc":true},{"year":2020,"month":7,"date":1,"utc":true},{"year":2020,"month":10,"date":1,"utc":true},{"year":2021,"month":1,"date":1,"utc":true},{"year":2021,"month":4,"date":1,"utc":true},{"year":2021,"month":7,"date":1,"utc":true},{"year":2021,"month":10,"date":1,"utc":true}],
                 "format": "%b %Y", "labelFont": "Lato", "labelFontSize": 16, "labelColor": "#666666", "ticks": false, "domain": false, "grid": false, "labelPadding": 9, "labelOverlap": false, "labelFlush": false,
                 "title": "Date of Death", "titleFont": "Roboto", "titleFontSize": 18, "titleColor": "#252423", "titleFontWeight": "normal", "titlePadding": 4}}
},
"layer": [
  {"data": {"values": [{"s": "2021-12-19", "e": "2022-01-01"}]},
   "mark": {"type": "rect", "color": "#dcdce0"},
   "encoding": {"x": {"field": "s", "type": "temporal"}, "x2": {"field": "e"}, "y": {"datum": 67.3}, "y2": {"datum": 0}}},
  {"mark": {"type": "bar", "size": 1.3},
   "encoding": {
     "y": {"field": "t", "type": "quantitative", "scale": {"domain": [0, 60], "nice": false},
           "axis": {"values": [0,10,20,30,40,50,60], "title": null, "labelFont": "Lato", "labelFontSize": 20, "labelColor": "#666666", "ticks": false, "domain": false, "grid": false, "labelPadding": 7}},
     "color": {"datum": "Non-Resident of LTCF Deaths", "type": "nominal",
       "scale": {"domain": ["Resident of LTCF Deaths", "Non-Resident of LTCF Deaths", "7 Day Average"], "range": ["#ff1f1f", "#2a37a8", "#000000"]},
       "legend": {"orient": "none", "direction": "horizontal", "legendX": -37, "legendY": -43, "title": null,
         "labelFont": "Lato", "labelFontSize": 21, "labelColor": "#666666", "symbolType": "circle", "symbolSize": 81,
         "columnPadding": 5, "labelOffset": 1, "symbolOffset": 0, "padding": 0, "labelLimit": 400,
         "encode": {"symbols": {"update": {
           "shape": {"signal": "datum.value === '7 Day Average' ? 'stroke' : 'circle'"},
           "size": {"signal": "datum.value === '7 Day Average' ? 400 : 81"},
           "strokeWidth": {"signal": "datum.value === '7 Day Average' ? 3 : 0"},
           "fill": {"signal": "datum.value === 'Resident of LTCF Deaths' ? '#ff1f1f' : datum.value === '7 Day Average' ? '#000000' : '#2a37a8'"},
           "stroke": {"signal": "datum.value === '7 Day Average' ? '#000000' : 'transparent'"},
           "opacity": {"value": 1}}}}}}}},
  {"mark": {"type": "bar", "size": 1.3},
   "encoding": {"y": {"field": "r", "type": "quantitative"}, "color": {"datum": "Resident of LTCF Deaths", "type": "nominal"}}},
  {"mark": {"type": "line", "strokeWidth": 5, "strokeJoin": "round"},
   "encoding": {"y": {"field": "a", "type": "quantitative"}, "color": {"datum": "7 Day Average", "type": "nominal"}}},
  {"data": {"values": [{"m": "2021-12-25T12:00:00Z"}]},
   "mark": {"type": "text", "text": "***", "fontSize": 8, "color": "#777777", "baseline": "middle"},
   "encoding": {"x": {"field": "m", "type": "temporal"}, "y": {"datum": 65.8}}},
  {"data": {"values": [{}]},
   "mark": {"type": "text", "align": "left", "baseline": "top", "font": "Lato", "fontSize": 10.7, "lineHeight": 12.8, "color": "#333333"},
   "encoding": {"x": {"value": 8}, "y": {"value": -6},
     "text": {"value": ["*LTCF is Long Term Care Facility and includes Nursing Homes, ICF-IID, Assisted Living, and Personal Care Homes", "**based on available data as of 3pm CT", "***7 day average not included for this time period due to possible delays in reporting"]}}},
  {"data": {"values": [{}]},
   "mark": {"type": "rect", "color": "#0d4a85"},
   "encoding": {"x": {"value": -38}, "x2": {"value": 969}, "y": {"value": -80.5}, "y2": {"value": -55.3}}},
  {"data": {"values": [{}]},
   "mark": {"type": "text", "align": "left", "baseline": "middle", "font": "Roboto", "fontSize": 22, "fontWeight": 500, "color": "white"},
   "encoding": {"x": {"value": -34}, "y": {"value": -67.5},
     "text": {"value": "COVID-19 LTCF* and Non-LTCF Deaths by Date of Death through December 27, 2021**, Mississippi"}}}
]
}
